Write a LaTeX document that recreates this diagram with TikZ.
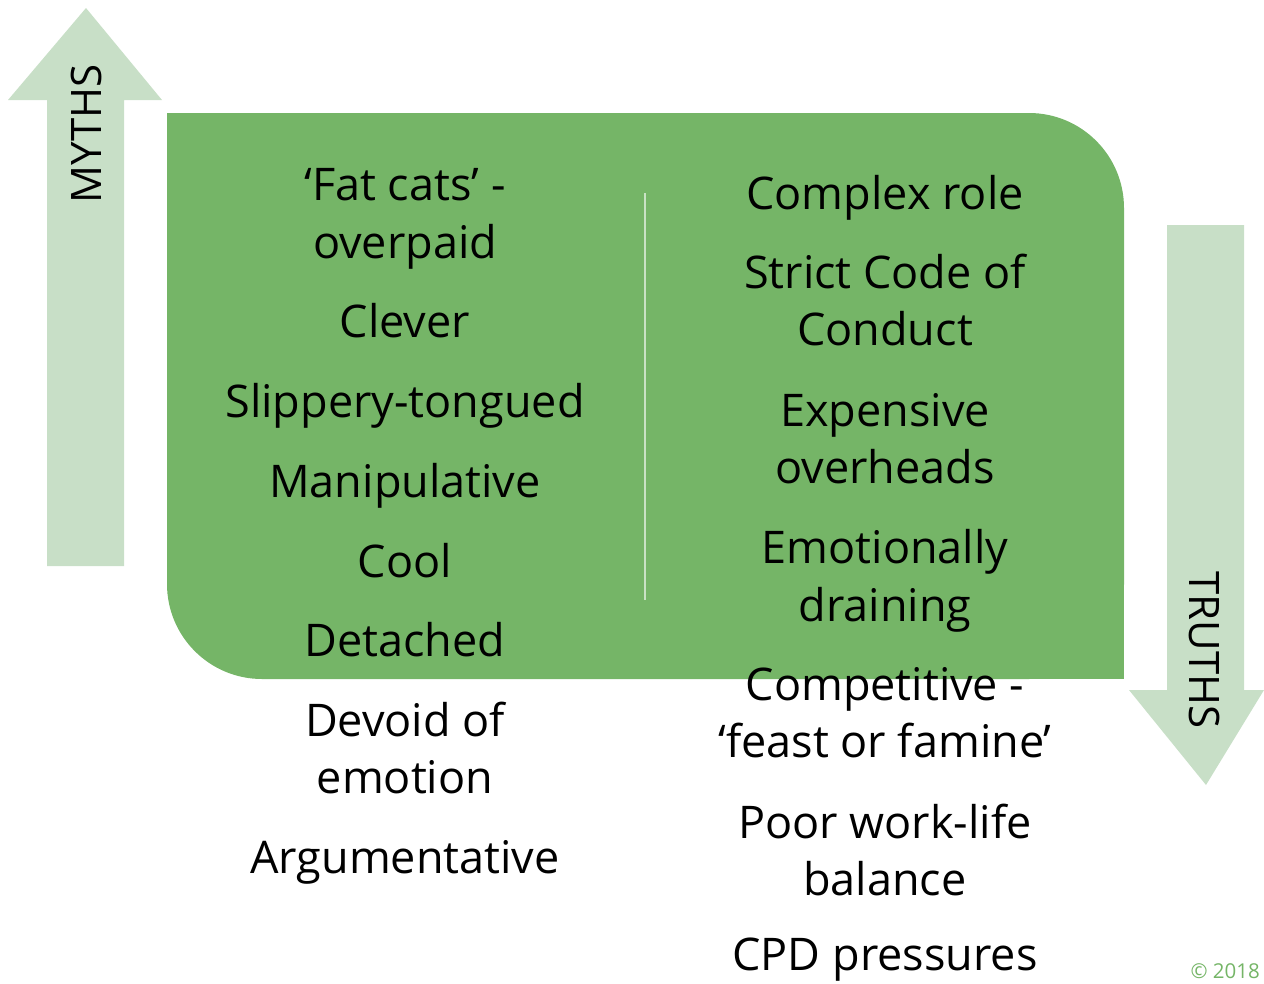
\documentclass[tikz,border=0pt]{standalone}
\usepackage{fontspec}
\setmainfont{Open Sans}
\definecolor{boxgreen}{HTML}{75B567}
\definecolor{paleg}{HTML}{C8DFC7}
\definecolor{divg}{HTML}{C9E2C4}
\definecolor{copyg}{HTML}{75B567}
\begin{document}
\begin{tikzpicture}[x=1pt,y=-1pt,
  txt/.style={anchor=base,inner sep=0pt,font=\fontsize{45}{52}\selectfont,text=black},
  lbl/.style={inner sep=0pt,font=\fontsize{42}{50}\selectfont,text=black}]
\useasboundingbox (0,0) rectangle (1264,983);
% arrows
\fill[paleg] (47,566) -- (47,100) -- (8,100) -- (86,8) -- (162,100) -- (124,100) -- (124,566) -- cycle;
\fill[paleg] (1167,225) -- (1244,225) -- (1244,690) -- (1264,690) -- (1206,785) -- (1129,690) -- (1167,690) -- cycle;
% box
\fill[boxgreen, rounded corners=95pt] (167,113) rectangle (1124,679);
\fill[boxgreen] (167,113) rectangle (300,250);
\fill[boxgreen] (1000,550) rectangle (1124,679);
\draw[divg, line width=2pt] (645,193) -- (645,600);
% arrow labels
\node[lbl, rotate=90] (myths) at (86,134) {MYTHS};
\node[lbl, rotate=-90] (truths) at (1204,650) {TRUTHS};
\node[anchor=base east, inner sep=0pt, font=\fontsize{20.5}{24}\selectfont, text=copyg] (copy) at (1260,978) {© 2018};
% left column
\node[txt] (l1) at (405,200) {‘Fat cats’ -};
\node[txt] (l2) at (405,258) {overpaid};
\node[txt] (l3) at (405,337) {Clever};
\node[txt] (l4) at (405,417) {Slippery-tongued};
\node[txt] (l5) at (405,497) {Manipulative};
\node[txt] (l6) at (405,577) {Cool};
\node[txt] (l7) at (405,656) {Detached};
\node[txt] (l8) at (405,736) {Devoid of};
\node[txt] (l9) at (405,793) {emotion};
\node[txt] (l10) at (405,873) {Argumentative};
% right column
\node[txt] (r1) at (885,209) {Complex role};
\node[txt] (r2) at (885,288) {Strict Code of};
\node[txt] (r3) at (885,345) {Conduct};
\node[txt] (r4) at (885,426) {Expensive};
\node[txt] (r5) at (885,483) {overheads};
\node[txt] (r6) at (885,563) {Emotionally};
\node[txt] (r7) at (885,621) {draining};
\node[txt] (r8) at (885,700) {Competitive -};
\node[txt] (r9) at (885,757) {‘feast or famine’};
\node[txt] (r10) at (885,838) {Poor work-life};
\node[txt] (r11) at (885,895) {balance};
\node[txt] (r12) at (885,970) {CPD pressures};
\end{tikzpicture}
\end{document}
